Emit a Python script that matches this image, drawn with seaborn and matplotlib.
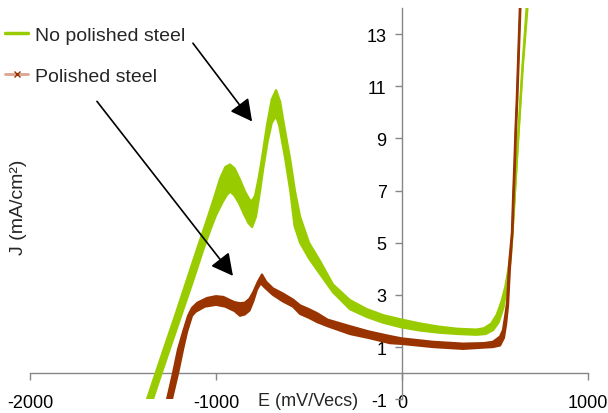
import numpy as np
import pandas as pd
import matplotlib
matplotlib.use("Agg")
import matplotlib.pyplot as plt
from matplotlib.lines import Line2D
import seaborn as sns

# Polarisation curves: each scan is drawn as a band between its upper and lower trace.
# E in mV/Vecs, J in mA/cm2.
green_upper_E = [-1371, -1323, -1275, -1220, -1160, -1100, -1050, -1011,
                 -978, -950, -925, -900, -870, -844, -820, -806, -790, -770,
                 -753, -726, -700, -677, -655, -634, -602, -575, -548, -500,
                 -441, -371, -280, -188, -100, 0, 100, 200, 300, 400,
                 440, 480, 510, 535, 555, 575, 592, 605, 625, 650, 680]
green_upper_J = [-1.0, 0.03, 1.05, 2.2, 3.5, 4.8, 5.85, 6.7,
                 7.46, 7.9, 8.0, 7.85, 7.4, 6.96, 6.65, 6.6, 6.8, 7.5,
                 8.23, 9.5, 10.5, 10.85, 10.4, 9.5, 8.23, 6.96, 6.0, 5.0,
                 4.3, 3.4, 2.8, 2.45, 2.22, 2.05, 1.9, 1.78, 1.7, 1.67,
                 1.72, 1.9, 2.25, 2.75, 3.3, 4.1, 5.2, 6.7, 9.0, 11.8, 14.5]
green_lower_E = [-1339, -1290, -1240, -1185, -1125, -1070, -1030, -1000,
                 -965, -940, -922, -900, -875, -850, -825, -806, -785, -765,
                 -745, -722, -700, -677, -660, -645, -628, -600, -578, -548,
                 -500, -441, -371, -280, -188, -100, 0, 100, 200, 300,
                 400, 450, 490, 520, 545, 565, 585, 600, 620, 645, 675]
green_lower_J = [-1.0, 0.05, 1.1, 2.25, 3.5, 4.7, 5.5, 6.05,
                 6.55, 6.85, 6.96, 6.8, 6.5, 6.1, 5.75, 5.6, 6.0, 6.9,
                 7.9, 8.9, 9.6, 9.85, 9.5, 8.9, 8.23, 6.96, 5.65, 5.0,
                 4.4, 3.8, 3.1, 2.45, 2.15, 1.93, 1.75, 1.63, 1.55, 1.5,
                 1.47, 1.5, 1.65, 1.95, 2.5, 3.3, 4.4, 6.0, 8.5, 11.5, 14.5]

brown_upper_E = [-1263, -1231, -1204, -1177, -1150, -1129, -1100, -1048, -1000, -960,
                 -925, -900, -871, -845, -820, -800, -775, -753, -730, -694,
                 -640, -586, -548, -500, -457, -400, -280, -180, -65, 0,
                 167, 328, 440, 489, 527, 543, 555, 565, 575, 591,
                 597, 604, 610, 617, 634]
brown_upper_J = [-1.0, 0.0, 0.92, 1.58, 2.2, 2.5, 2.7, 2.88, 2.95, 2.92,
                 2.8, 2.72, 2.68, 2.7, 2.85, 3.1, 3.5, 3.78, 3.5, 3.25,
                 3.05, 2.82, 2.6, 2.45, 2.3, 2.05, 1.8, 1.6, 1.42, 1.33,
                 1.2, 1.13, 1.15, 1.2, 1.4, 1.65, 2.2, 2.7, 4.1, 5.4,
                 6.7, 8.0, 9.3, 10.5, 14.1]
brown_lower_E = [-1237, -1204, -1177, -1156, -1129, -1110, -1060, -1000, -950, -900,
                 -871, -845, -820, -800, -780, -760, -740, -694, -640, -586,
                 -548, -500, -457, -400, -280, -180, -65, 0, 167, 328,
                 440, 489, 527, 548, 560, 570, 580, 594, 600, 607,
                 613, 620, 637]
brown_lower_J = [-1.0, 0.0, 0.92, 1.58, 2.2, 2.35, 2.55, 2.62, 2.55, 2.38,
                 2.2, 2.25, 2.4, 2.75, 3.2, 3.45, 3.3, 3.0, 2.75, 2.55,
                 2.27, 2.12, 1.96, 1.8, 1.5, 1.35, 1.15, 1.12, 1.0, 0.93,
                 0.98, 1.0, 1.06, 1.35, 1.9, 2.6, 4.0, 5.4, 6.7, 8.0,
                 9.3, 10.5, 14.1]

series_labels = ["No polished steel", "Polished steel"]
x_ticks = [-2000, -1000, 0, 1000]
y_ticks = [-1, 1, 3, 5, 7, 9, 11, 13]

GREEN = "#99CC00"
BROWN = "#993300"
AXIS_GREY = "#868686"

sns.set_theme(style="white")
plt.rcParams["font.family"] = ["Liberation Sans", "DejaVu Sans"]
plt.rcParams["axes.unicode_minus"] = False

W, H = 608, 414
fig = plt.figure(figsize=(W / 100, H / 100), dpi=100)
ax = fig.add_axes([30 / W, (H - 400.2) / H, 558 / W, 391.2 / H])


def draw_band(E_up, J_up, E_lo, J_lo, color):
    E_up, J_up = np.asarray(E_up, float), np.asarray(J_up, float)
    E_lo, J_lo = np.asarray(E_lo, float), np.asarray(J_lo, float)
    ax.fill(np.r_[E_up, E_lo[::-1]], np.r_[J_up, J_lo[::-1]],
            color=color, lw=0, zorder=2)
    for E, J in ((E_up, J_up), (E_lo, J_lo)):
        df = pd.DataFrame({"E": E, "J": J})
        sns.lineplot(data=df, x="E", y="J", sort=False, estimator=None,
                     color=color, lw=1.6, ax=ax, zorder=2)


draw_band(green_upper_E, green_upper_J, green_lower_E, green_lower_J, GREEN)
draw_band(brown_upper_E, brown_upper_J, brown_lower_E, brown_lower_J, BROWN)

ax.set_xlim(-2000, 1000)
ax.set_ylim(-1, 14)
ax.set_xticks(x_ticks)
ax.set_yticks(y_ticks)
ax.set_xlabel("")
ax.set_ylabel("")

for side in ("top", "right"):
    ax.spines[side].set_visible(False)
ax.spines["left"].set_position(("data", 0))
ax.spines["bottom"].set_position(("data", 0))
for side in ("left", "bottom"):
    ax.spines[side].set_color(AXIS_GREY)
    ax.spines[side].set_linewidth(1.0)
    ax.spines[side].set_zorder(1)

ax.tick_params(axis="both", which="major", direction="out", length=5, width=1,
               color=AXIS_GREY, labelcolor="black", labelsize=13,
               bottom=True, left=True)
ax.tick_params(axis="x", pad=10)
ax.tick_params(axis="y", pad=6)

ax.text(-774, -1.04, "E (mV/Vecs)", fontsize=13, ha="left", va="center",
        clip_on=False)
ax.text(-2060, 6.4, "J (mA/cm²)", fontsize=14, rotation=90,
        ha="center", va="center", clip_on=False)

arrow_style = dict(arrowstyle="-|>,head_length=0.95,head_width=0.5",
                   color="black", lw=1.2, mutation_scale=14,
                   shrinkA=0, shrinkB=0)
ax.annotate("", xy=(-806, 9.65), xytext=(-1124, 12.65), arrowprops=arrow_style,
            zorder=5)
ax.annotate("", xy=(-909, 3.73), xytext=(-1640, 10.42), arrowprops=arrow_style,
            zorder=5)

handles = [Line2D([], [], color=GREEN, lw=2.5),
           Line2D([], [], color="#dca58f", lw=2, marker="x", ms=4,
                  mec=BROWN, mew=1)]
fig.legend(handles, series_labels, loc="upper left",
           bbox_to_anchor=(5 / W, 1 - 27 / H), frameon=False, fontsize=14,
           handlelength=1.2, handletextpad=0.35, labelspacing=1.2,
           borderpad=0, borderaxespad=0)

fig.savefig("out.png", dpi=100)
